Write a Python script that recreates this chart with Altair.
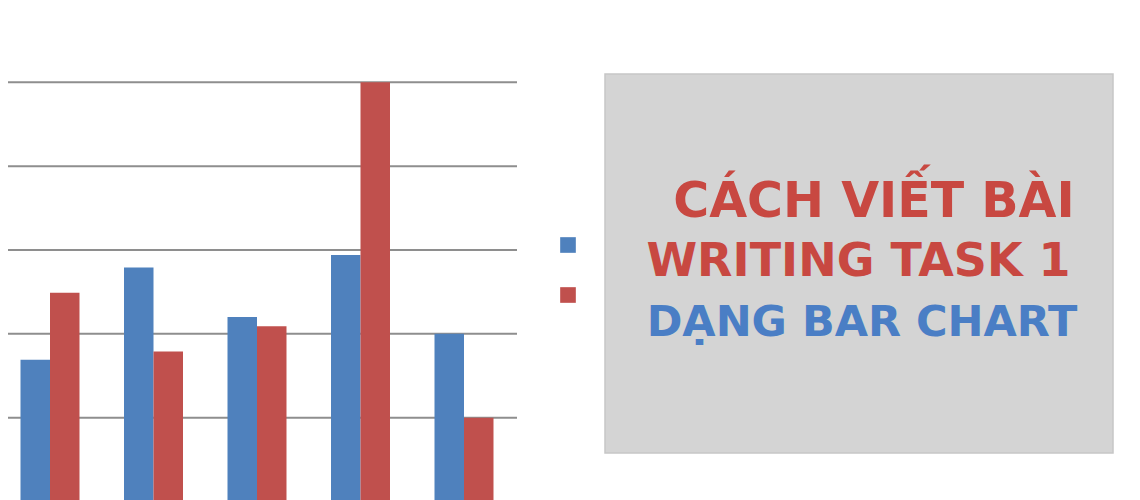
import altair as alt
import pandas as pd

# ---- data ----
groups = ["1", "2", "3", "4", "5"]
series_names = ["Series 1", "Series 2"]
series1 = [1.69, 2.79, 2.20, 2.94, 2.00]
series2 = [2.49, 1.79, 2.09, 5.00, 1.00]
grid_values = [1, 2, 3, 4, 5]
title_lines = ["CÁCH VIẾT BÀI", "WRITING TASK 1", "DẠNG BAR CHART"]

BLUE = "#4f81bd"
RED = "#c0504d"
TXT_RED = "#c84841"
TXT_BLUE = "#4a7ec5"

rows = []
for i, g in enumerate(groups):
    rows.append({"group": g, "series": series_names[0], "value": series1[i]})
    rows.append({"group": g, "series": series_names[1], "value": series2[i]})
bars_df = pd.DataFrame(rows)
grid_df = pd.DataFrame({"value": grid_values})

yscale = alt.Scale(domain=[0, 5], range=[493.5, 74.3], nice=False, zero=True)

grid = alt.Chart(grid_df).mark_rule(color="#8e8e8e", strokeWidth=2).encode(
    y=alt.Y("value:Q", scale=yscale, axis=None),
    x=alt.value(0),
    x2=alt.value(509),
)

bars = alt.Chart(bars_df).mark_bar().encode(
    x=alt.X(
        "group:N",
        sort=groups,
        axis=None,
        scale=alt.Scale(range=[-9.75, 507.75], paddingInner=0.43, paddingOuter=0.215),
    ),
    xOffset=alt.XOffset(
        "series:N", sort=series_names, scale=alt.Scale(paddingInner=0, paddingOuter=0)
    ),
    y=alt.Y("value:Q", scale=yscale, axis=None),
    color=alt.Color(
        "series:N",
        scale=alt.Scale(domain=series_names, range=[BLUE, RED]),
        legend=alt.Legend(
            orient="none",
            legendX=552,
            legendY=229,
            title=None,
            symbolType="square",
            symbolSize=245,
            symbolStrokeWidth=0,
            labelExpr="''",
            rowPadding=34,
            padding=0,
        ),
    ),
)

box = alt.Chart(pd.DataFrame({"k": [0]})).mark_rect(
    fill="#d4d4d4", stroke="#c6c6c6", strokeWidth=1.5
).encode(
    x=alt.value(597), x2=alt.value(1105), y=alt.value(66), y2=alt.value(445)
)


def line_text(txt, color, cx, by, size):
    return alt.Chart(pd.DataFrame({"t": [txt]})).mark_text(
        font="DejaVu Sans",
        fontWeight="bold",
        fontSize=size,
        color=color,
        align="center",
        baseline="alphabetic",
    ).encode(text="t:N", x=alt.value(cx), y=alt.value(by))


t1 = line_text(title_lines[0], TXT_RED, 866, 209, 49)
t2 = line_text(title_lines[1], TXT_RED, 850.5, 268, 46)
t3 = line_text(title_lines[2], TXT_BLUE, 854, 328, 43)

chart = (
    alt.layer(grid, bars, box, t1, t2, t3)
    .properties(width=1124, height=492, padding=0, autosize="none")
    .configure_view(stroke=None)
)

chart.save("out.html", embed_options={"renderer": "svg", "actions": False})
